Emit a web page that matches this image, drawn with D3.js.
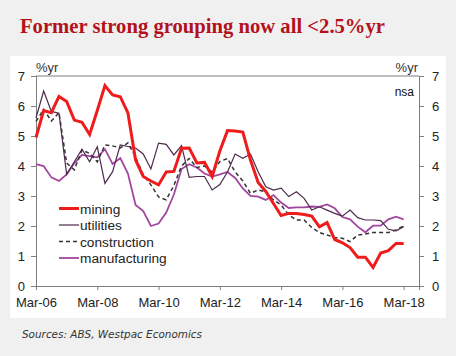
<!DOCTYPE html>
<html><head><meta charset="utf-8">
<script src="https://cdn.jsdelivr.net/npm/d3@7"></script>
<style>
html,body{margin:0;padding:0;background:#f0f0f0;}
svg{display:block;}
</style></head>
<body>
<svg id="chart" width="456" height="356"></svg>
<script>
// Quarterly data, Mar-06 .. Mar-18 (%yr, nsa)
const xTickLabels = ["Mar-06","Mar-08","Mar-10","Mar-12","Mar-14","Mar-16","Mar-18"];
const yTicks = [0,1,2,3,4,5,6,7];
const seriesNames = ["mining","utilities","construction","manufacturing"];
const mining = [4.95,5.85,5.78,6.32,6.15,5.53,5.46,5.05,5.85,6.68,6.37,6.31,5.77,4.2,3.65,3.5,3.37,3.8,3.82,4.59,4.6,4.1,4.12,3.65,4.5,5.18,5.17,5.13,4.2,3.45,3.15,2.75,2.35,2.42,2.42,2.38,2.33,1.97,2.11,1.55,1.44,1.28,0.96,0.96,0.62,1.1,1.18,1.42,1.42];
const utilities = [5.6,6.5,5.82,5.76,3.72,4.14,4.56,4.14,4.64,3.42,3.81,4.7,4.65,4.6,4.4,3.9,4.76,4.72,4.37,4.68,3.62,3.65,3.65,3.2,3.38,3.8,4.4,4.26,4.4,3.81,3.31,3.2,3.26,2.98,3.14,2.92,2.53,2.64,2.53,2.42,2.33,2.53,2.28,2.2,2.2,2.18,1.89,1.84,1.98];
const construction = [5.48,5.89,5.5,5.78,4.1,3.87,4.53,4.42,4.14,4.7,4.67,4.6,4.77,4.3,3.71,3.37,2.97,2.87,3.35,4.0,4.25,3.95,4.0,3.8,4.15,4.25,3.8,3.5,3.09,3.2,3.14,2.87,2.7,2.37,2.2,2.2,1.95,1.78,1.7,1.62,1.59,1.48,1.7,1.73,1.78,1.78,1.78,1.87,2.0];
const manufacturing = [4.06,4.0,3.62,3.5,3.72,4.09,4.37,4.33,4.29,4.56,4.07,4.26,3.75,2.7,2.5,2.0,2.08,2.45,3.05,3.9,4.06,3.95,3.75,3.65,3.72,3.8,3.6,3.25,3.0,2.98,2.87,3.03,2.78,2.6,2.62,2.62,2.65,2.64,2.72,2.59,2.3,2.22,1.98,1.79,2.01,2.01,2.22,2.31,2.22];

const svg = d3.select("#chart");
const W = 456, H = 356;
const L = 36, R = 419, T = 76, B = 286;

svg.append("rect").attr("x",0).attr("y",0).attr("width",W).attr("height",H).attr("fill","#f0f0f0");
svg.append("rect").attr("x",10).attr("y",56).attr("width",436).attr("height",262).attr("fill","#ffffff");

svg.append("text").attr("x",20).attr("y",33)
  .attr("font-family","'Liberation Serif','DejaVu Serif',serif").attr("font-weight","bold")
  .attr("font-size",22).attr("fill","#b3121c")
  .attr("textLength",365).attr("lengthAdjust","spacingAndGlyphs")
  .text("Former strong grouping now all <2.5%yr");

const x = d3.scaleLinear().domain([0,50]).range([L,R]);
const y = d3.scaleLinear().domain([0,7]).range([B,T]);

const axisColor = "#7f7f7f";
const font = "'Liberation Sans',Arial,sans-serif";

// frame
svg.append("line").attr("x1",L).attr("x2",R).attr("y1",T).attr("y2",T).attr("stroke",axisColor);

const yl = svg.append("g").attr("transform",`translate(${L},0)`)
  .call(d3.axisLeft(y).tickValues(yTicks).tickSize(5).tickPadding(6).tickFormat(d3.format("d")));
const yr = svg.append("g").attr("transform",`translate(${R},0)`)
  .call(d3.axisRight(y).tickValues(yTicks).tickSize(5).tickPadding(8).tickFormat(d3.format("d")));
const xa = svg.append("g").attr("transform",`translate(0,${B})`)
  .call(d3.axisBottom(x).tickValues(xTickLabels.map((d,i)=>i*8)).tickSize(4).tickPadding(6)
    .tickFormat((d,i)=>xTickLabels[i]));
[yl,yr,xa].forEach(g=>{
  g.select(".domain").attr("stroke",axisColor).attr("stroke-width",1);
  g.selectAll(".tick line").attr("stroke",axisColor);
  g.selectAll(".tick text").attr("font-family",font).attr("font-size",13).attr("fill","#222");
});
xa.selectAll(".tick text").attr("dy","0.85em");

svg.append("text").attr("x",36).attr("y",72).attr("font-family",font).attr("font-size",13).attr("fill","#333").text("%yr");
svg.append("text").attr("x",418).attr("y",72).attr("text-anchor","end").attr("font-family",font).attr("font-size",13).attr("fill","#333").text("%yr");
svg.append("text").attr("x",414).attr("y",96).attr("text-anchor","end").attr("font-family",font).attr("font-size",12).attr("fill","#111").text("nsa");

const styles = {
  mining:{data:mining,color:"#ee1c1c",width:3,dash:null},
  utilities:{data:utilities,color:"#4d2a4d",width:1.2,dash:null},
  construction:{data:construction,color:"#333333",width:1.5,dash:"4,3"},
  manufacturing:{data:manufacturing,color:"#a2479e",width:1.8,dash:null}
};
const line = d3.line().x((d,i)=>x(i)).y(d=>y(d));
["manufacturing","construction","utilities","mining"].forEach(n=>{
  const s = styles[n];
  svg.append("path").datum(s.data).attr("d",line).attr("fill","none")
    .attr("stroke",s.color).attr("stroke-width",s.width)
    .attr("stroke-dasharray",s.dash).attr("stroke-linejoin","miter");
});

// legend
seriesNames.forEach((n,i)=>{
  const s = styles[n];
  const yy = 208.5 + i*16.5;
  svg.append("line").attr("x1",59).attr("x2",79).attr("y1",yy).attr("y2",yy)
    .attr("stroke",s.color).attr("stroke-width",s.width).attr("stroke-dasharray",s.dash);
  svg.append("text").attr("x",80).attr("y",yy+5).attr("font-family",font).attr("font-size",13.7)
    .attr("fill","#222").text(n);
});

svg.append("text").attr("x",22).attr("y",338).attr("font-family","'DejaVu Sans',Verdana,sans-serif")
  .attr("font-style","italic").attr("font-size",10).attr("fill","#333")
  .attr("textLength",180).attr("lengthAdjust","spacingAndGlyphs")
  .text("Sources: ABS, Westpac Economics");
</script>
</body></html>
